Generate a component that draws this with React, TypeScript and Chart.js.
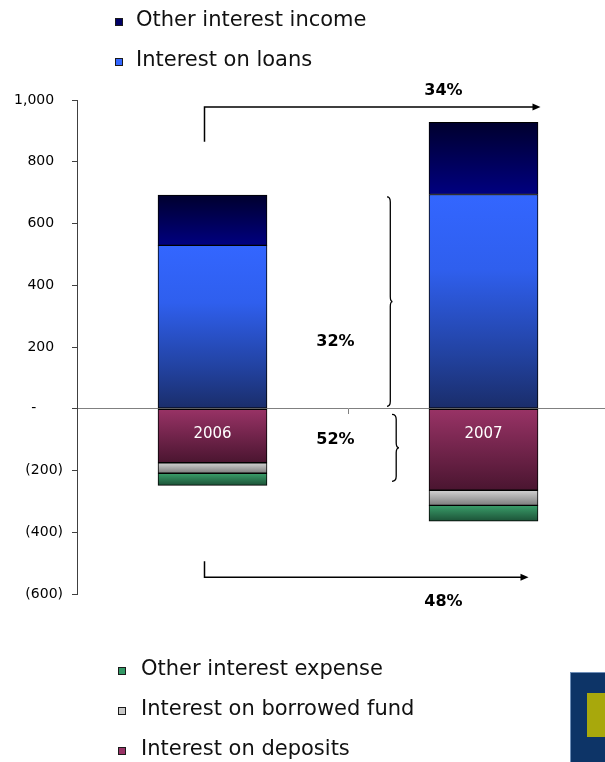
import React, { useEffect, useRef } from "react";
import { Chart, registerables } from "chart.js";

Chart.register(...registerables);

// ---------- data ----------
const categories = ["2006", "2007"];
const interestOnLoans = [529, 694];
const otherInterestIncome = [163, 234];
const interestOnDeposits = [-175, -264];
const interestOnBorrowedFund = [-34, -49];
const otherInterestExpense = [-39, -51];
const yMin = -600;
const yMax = 1000;
const yStep = 200;
const growthTotal = "34%";
const growthLoans = "32%";
const growthDeposits = "52%";
const growthExpense = "48%";

// ---------- styles ----------
type Stop = [number, string];
const series: { label: string; data: number[]; stops: Stop[]; swatch: string }[] = [
  {
    label: "Interest on loans",
    data: interestOnLoans,
    stops: [[0, "#3366FF"], [0.35, "#2F5FEE"], [0.75, "#2242A0"], [1, "#1A2D6A"]],
    swatch: "#3366FF",
  },
  {
    label: "Other interest income",
    data: otherInterestIncome,
    stops: [[0, "#00002E"], [1, "#000080"]],
    swatch: "#000066",
  },
  {
    label: "Interest on deposits",
    data: interestOnDeposits,
    stops: [[0, "#993366"], [1, "#4A1530"]],
    swatch: "#993366",
  },
  {
    label: "Interest on borrowed fund",
    data: interestOnBorrowedFund,
    stops: [[0, "#D2D2D2"], [1, "#7C7C7C"]],
    swatch: "#C8C8C8",
  },
  {
    label: "Other interest expense",
    data: otherInterestExpense,
    stops: [[0, "#3A9E6A"], [1, "#1C5237"]],
    swatch: "#339966",
  },
];

const topLegend = [1, 0];
const bottomLegend = [4, 3, 2];

function bounds(ds: number, i: number): [number, number] {
  const v = series[ds].data[i];
  let base = 0;
  for (let k = 0; k < ds; k++) {
    const w = series[k].data[i];
    if ((w >= 0) === (v >= 0)) base += w;
  }
  return [base, base + v];
}

const makeBg = (ds: number) => (ctx: any) => {
  const stops = series[ds].stops;
  const chart = ctx.chart;
  const ys = chart.scales && chart.scales.y;
  if (ctx.type !== "data" || !ys) return series[ds].swatch;
  const [a, b] = bounds(ds, ctx.dataIndex);
  const top = ys.getPixelForValue(Math.max(a, b));
  const bot = ys.getPixelForValue(Math.min(a, b));
  if (!isFinite(top) || !isFinite(bot) || bot - top < 0.5) return series[ds].swatch;
  const g = chart.ctx.createLinearGradient(0, top, 0, bot);
  stops.forEach(([o, c]) => g.addColorStop(o, c));
  return g;
};

const fmt = (n: number) => n.toLocaleString("en-US");

function arrowHead(ctx: CanvasRenderingContext2D, tx: number, ty: number) {
  ctx.beginPath();
  ctx.moveTo(tx, ty);
  ctx.lineTo(tx - 8, ty - 3.5);
  ctx.lineTo(tx - 8, ty + 3.5);
  ctx.closePath();
  ctx.fill();
}

function brace(ctx: CanvasRenderingContext2D, x: number, top: number, bottom: number, w: number) {
  const mid = (top + bottom) / 2;
  const xs = x + w * 0.6;
  const r = 5;
  ctx.beginPath();
  ctx.moveTo(x, top);
  ctx.quadraticCurveTo(xs, top, xs, top + r);
  ctx.lineTo(xs, mid - r);
  ctx.quadraticCurveTo(xs, mid, x + w, mid);
  ctx.quadraticCurveTo(xs, mid, xs, mid + r);
  ctx.lineTo(xs, bottom - r);
  ctx.quadraticCurveTo(xs, bottom, x, bottom);
  ctx.stroke();
}

const decorPlugin = {
  id: "decor",
  afterDraw(chart: any) {
    const ctx: CanvasRenderingContext2D = chart.ctx;
    const x = chart.scales.x;
    const y = chart.scales.y;
    const c0 = x.getPixelForValue(0);
    const c1 = x.getPixelForValue(1);
    const mid = (c0 + c1) / 2;
    ctx.save();

    // arrows
    ctx.strokeStyle = "#000";
    ctx.fillStyle = "#000";
    ctx.lineWidth = 1.5;
    const ax = c0 - 8;
    const yA = y.getPixelForValue(977);
    ctx.beginPath();
    ctx.moveTo(ax, y.getPixelForValue(865));
    ctx.lineTo(ax, yA);
    ctx.lineTo(c1 + 50, yA);
    ctx.stroke();
    arrowHead(ctx, c1 + 57, yA);

    const yB = y.getPixelForValue(-546);
    ctx.beginPath();
    ctx.moveTo(ax, y.getPixelForValue(-494));
    ctx.lineTo(ax, yB);
    ctx.lineTo(c1 + 38, yB);
    ctx.stroke();
    arrowHead(ctx, c1 + 45, yB);

    // braces
    ctx.lineWidth = 1.3;
    brace(ctx, mid + 39, y.getPixelForValue(686), y.getPixelForValue(8), 5.5);
    brace(ctx, mid + 44, y.getPixelForValue(-18), y.getPixelForValue(-235), 7);

    // growth labels
    ctx.font = "bold 16px 'DejaVu Sans'";
    ctx.textAlign = "center";
    ctx.textBaseline = "middle";
    ctx.fillStyle = "#000";
    ctx.fillText(growthTotal, c1 - 40, 91);
    ctx.fillText(growthLoans, mid - 12.5, y.getPixelForValue(216));
    ctx.fillText(growthDeposits, mid - 12.5, y.getPixelForValue(-102));
    ctx.fillText(growthExpense, c1 - 40, 602);

    // legends
    ctx.font = "21px 'DejaVu Sans'";
    ctx.textAlign = "left";
    ctx.textBaseline = "middle";
    const drawItem = (ds: number, mx: number, tx: number, cy: number) => {
      ctx.fillStyle = "#1a1a1a";
      ctx.fillRect(mx, cy - 3, 8, 8);
      ctx.fillStyle = series[ds].swatch;
      ctx.fillRect(mx + 1, cy - 2, 6, 6);
      ctx.fillStyle = "#111";
      ctx.fillText(series[ds].label, tx, cy);
    };
    topLegend.forEach((ds, k) => drawItem(ds, 115, 136, 21 + k * 40));
    bottomLegend.forEach((ds, k) => drawItem(ds, 118, 141, 670 + k * 40));

    // logo block (bottom right)
    ctx.fillStyle = "#6F8FB8";
    ctx.fillRect(570, 672, 60, 100);
    ctx.fillStyle = "#0D3467";
    ctx.fillRect(571, 673, 60, 100);
    ctx.fillStyle = "#A8A80C";
    ctx.fillRect(587, 693, 40, 44);

    ctx.restore();
  },
};

export default function App() {
  const ref = useRef<HTMLCanvasElement>(null);

  useEffect(() => {
    const canvas = ref.current;
    if (!canvas) return;
    const chart = new Chart(canvas, {
      type: "bar",
      data: {
        labels: categories,
        datasets: series.map((s, ds) => ({
          label: s.label,
          data: s.data,
          backgroundColor: makeBg(ds),
          borderColor: "#000",
          borderWidth: 1,
          borderSkipped: false,
          barThickness: 109,
          stack: "s",
        })),
      },
      options: {
        responsive: false,
        animation: false,
        events: [],
        layout: { padding: { left: 0, top: 100, right: 1, bottom: 168 } },
        plugins: {
          legend: { display: false },
          tooltip: { enabled: false },
        },
        scales: {
          x: {
            stacked: true,
            position: { y: 0 } as any,
            grid: {
              display: true,
              drawOnChartArea: false,
              drawTicks: true,
              tickLength: 5,
              offset: true,
              color: "#808080",
            },
            border: { display: true, color: "#808080", width: 1 },
            ticks: {
              z: 1,
              color: "#ffffff",
              padding: 11,
              font: { family: "'DejaVu Sans'", size: 15 },
            },
          },
          y: {
            stacked: true,
            min: yMin,
            max: yMax,
            afterFit: (scale: any) => {
              scale.width = 77;
            },
            grid: {
              display: true,
              drawOnChartArea: false,
              drawTicks: true,
              tickLength: 5,
              color: "#404040",
            },
            border: { display: true, color: "#404040", width: 1 },
            ticks: {
              stepSize: yStep,
              padding: 9,
              color: "#000",
              font: { family: "'DejaVu Sans'", size: 14 },
              callback: (v: any) => {
                const n = Number(v);
                if (n === 0) return "-      ";
                if (n < 0) return `(${fmt(-n)})`;
                return fmt(n) + "  ";
              },
            },
          },
        },
      },
      plugins: [decorPlugin],
    } as any);
    return () => chart.destroy();
  }, []);

  return (
    <div
      style={{
        position: "absolute",
        left: 0,
        top: 0,
        width: 605,
        height: 762,
        overflow: "hidden",
        background: "#ffffff",
      }}
    >
      <canvas ref={ref} width={620} height={762} style={{ display: "block", width: 620, height: 762 }} />
    </div>
  );
}
